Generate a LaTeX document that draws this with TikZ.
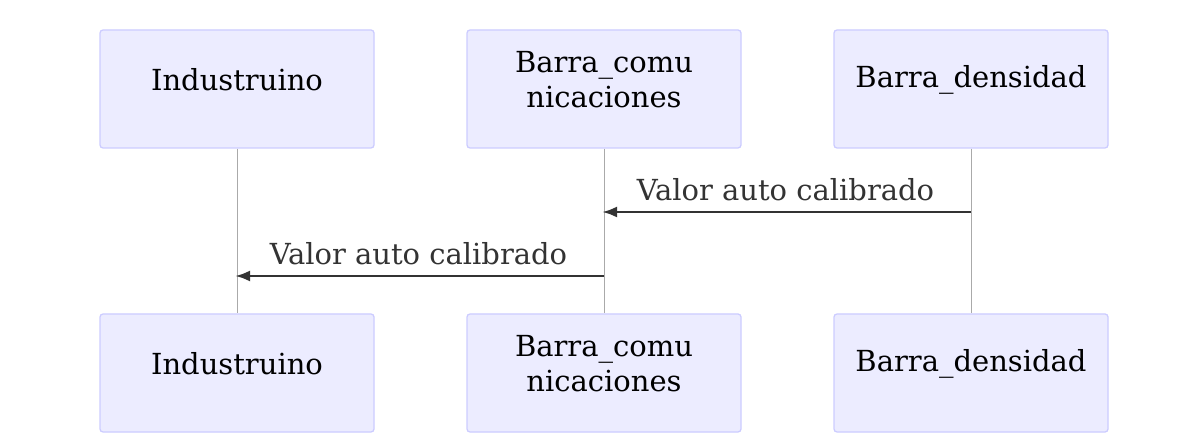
\documentclass[tikz,border=0pt]{standalone}
\usepackage{fontspec}
\setmainfont{DejaVu Serif}
\usetikzlibrary{arrows.meta}
\definecolor{actfill}{HTML}{ECECFF}
\definecolor{actdraw}{HTML}{CCCCFF}
\definecolor{lifec}{HTML}{AAAAAA}
\definecolor{msgc}{HTML}{333333}
\begin{document}
\begin{tikzpicture}[x=1pt,y=-1pt,
  actor/.style={draw=actdraw,fill=actfill,line width=1.3pt,rounded corners=3pt,minimum width=274pt,minimum height=118pt,inner sep=0pt},
  atext/.style={inner sep=0pt,align=center,font=\fontsize{29}{35}\selectfont},
  life/.style={draw=lifec,line width=1pt},
  msg/.style={draw=msgc,line width=2.8pt,-{Latex[length=15pt,width=11pt]}},
  lbl/.style={text=msgc,font=\fontsize{29}{35}\selectfont,inner sep=0pt,anchor=base}]
\useasboundingbox (0,0) rectangle (1200,446);
\node[actor] (a1) at (237,89) {};
\node[actor] (a2) at (604,89) {};
\node[actor] (a3) at (971,89) {};
\node[actor] (b1) at (237,373) {};
\node[actor] (b2) at (604,373) {};
\node[actor] (b3) at (971,373) {};
\node[atext] (a1t) at ([yshift=9pt]a1.center) {Industruino};
\node[atext] (a2t) at ([yshift=9pt]a2.center) {Barra\_comu\\nicaciones};
\node[atext] (a3t) at ([yshift=9pt]a3.center) {Barra\_densidad};
\node[atext] (b1t) at ([yshift=9pt]b1.center) {Industruino};
\node[atext] (b2t) at ([yshift=9pt]b2.center) {Barra\_comu\\nicaciones};
\node[atext] (b3t) at ([yshift=9pt]b3.center) {Barra\_densidad};
\draw[life] (a1.south) -- (b1.north);
\draw[life] (a2.south) -- (b2.north);
\draw[life] (a3.south) -- (b3.north);
\coordinate (m1s) at (971,212);
\coordinate (m1e) at (602,212);
\coordinate (m2s) at (604,276);
\coordinate (m2e) at (235,276);
\draw[msg] (m1s) -- (m1e);
\draw[msg] (m2s) -- (m2e);
\node[lbl] (l1) at (785.5,201) {Valor auto calibrado};
\node[lbl] (l2) at (418.5,265) {Valor auto calibrado};
\end{tikzpicture}
\end{document}
